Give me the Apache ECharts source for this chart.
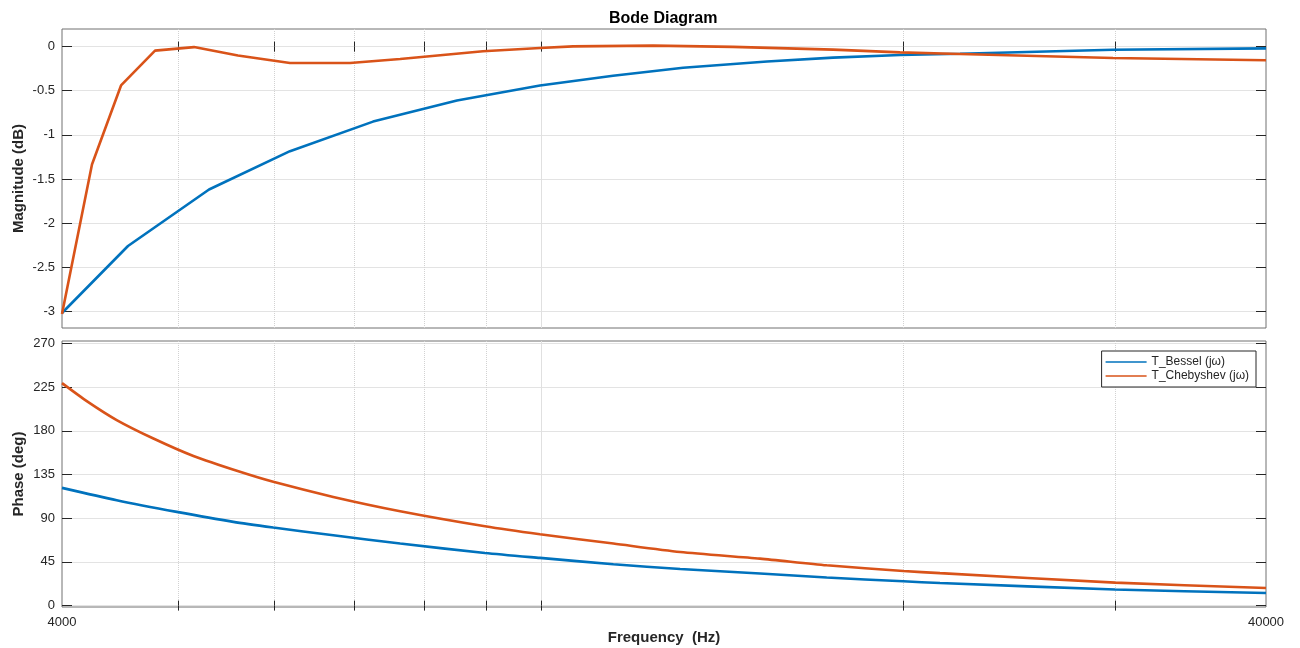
<!DOCTYPE html>
<html><head><meta charset="utf-8">
<script src="https://cdn.jsdelivr.net/npm/echarts@6/dist/echarts.min.js"></script>
<style>html,body{margin:0;padding:0;background:#fff}#c{width:1300px;height:648px}</style>
</head><body><div id="c"></div>
<script>
// ---- data (frequency in Hz) ----
const besselMagFreq = [4000, 4538, 5299, 6186, 7251, 8513, 9978, 11475, 13120, 15405, 17479, 19864, 22278, 29858, 40000];
const besselMag     = [-3.02, -2.26, -1.62, -1.185, -0.85, -0.61, -0.44, -0.33, -0.24, -0.168, -0.125, -0.095, -0.08, -0.036, -0.02];
const chebMagFreq   = [4000, 4236, 4478, 4779, 5149, 5600, 6186, 6939, 7637, 8948, 9978, 10630, 12386, 14433, 17479, 19864, 22278, 29858, 40000];
const chebMag       = [-3.03, -1.336, -0.44, -0.045, -0.005, -0.10, -0.185, -0.185, -0.14, -0.053, -0.015, 0.003, 0.012, -0.003, -0.034, -0.065, -0.083, -0.128, -0.155];
const besselPhaseFreq = [4000, 4441, 4982, 5551, 5991, 6720, 7637, 8982, 9978, 11482, 13046, 15200, 17266, 19989, 21443, 29967, 40000];
const besselPhase     = [121.2, 108.5, 96.5, 86.2, 80.4, 72.4, 63.9, 54.2, 49.1, 42.6, 37.7, 33.0, 28.9, 25.0, 23.3, 16.5, 13.0];
const chebPhaseFreq   = [4000, 4200, 4441, 4764, 5143, 5622, 5991, 6720, 7637, 8982, 9978, 11482, 13046, 15200, 17266, 19989, 21443, 29967, 40000];
const chebPhase       = [229, 210, 191, 172, 154, 137.7, 127.4, 111.9, 97.2, 81.7, 73.5, 63.9, 55.2, 48.4, 41.5, 35.7, 33.4, 23.7, 18.1];

const seriesNames = ['T_Bessel (j\u03c9)', 'T_Chebyshev (j\u03c9)'];
const freqLabels = [4000, 40000];
const freqTicks = [5000, 6000, 7000, 8000, 9000, 10000, 20000, 30000];
const freqMajorGrid = [10000];
const magTicks = [-3, -2.5, -2, -1.5, -1, -0.5, 0];
const phaseTicks = [0, 45, 90, 135, 180, 225, 270];
const magRange = [-3.19, 0.2];
const phaseRange = [-1.44, 272.4];

// ---- styles ----
const FONT = "'Liberation Sans', Arial, Helvetica, sans-serif";
const TXT = '#262626';
const colors = ['#0072BD', '#D95319'];
const pair = (xs, ys) => xs.map((x, i) => [x, ys[i]]);

const grids = [
  {left: 62, top: 29, width: 1204, height: 299},
  {left: 62, top: 341, width: 1204, height: 266}
].map(g => Object.assign({show: true, borderColor: '#707070', borderWidth: 1, backgroundColor: '#fff', containLabel: false}, g));

const xAxes = [];
[0, 1].forEach(g => {
  const base = {type: 'log', logBase: 10, min: 4000, max: 40000, gridIndex: g};
  xAxes.push(Object.assign({}, base, {
    position: 'bottom',
    axisLine: {show: false},
    axisTick: {show: true, inside: true, length: 5, customValues: freqTicks, lineStyle: {color: TXT}},
    splitLine: {show: true, lineStyle: {type: 'dotted', color: '#d2d2d2', width: 1}},
    axisLabel: {show: g === 1, customValues: freqLabels, margin: 9, fontSize: 13, fontFamily: FONT, color: TXT,
      formatter: v => String(Math.round(v))},
    name: g === 1 ? 'Frequency  (Hz)' : '',
    nameLocation: 'middle', nameGap: 23,
    nameTextStyle: {fontSize: 15, fontWeight: 'bold', fontFamily: FONT, color: TXT}
  }));
  xAxes.push(Object.assign({}, base, {
    position: 'top',
    axisLine: {show: false},
    axisTick: {show: true, inside: true, length: 5, customValues: freqTicks, lineStyle: {color: TXT}},
    splitLine: {show: false},
    axisLabel: {show: false}
  }));
  xAxes.push(Object.assign({}, base, {
    position: 'bottom',
    axisLine: {show: false},
    axisTick: {show: false, customValues: freqMajorGrid},
    splitLine: {show: true, lineStyle: {type: 'solid', color: '#e0e0e0', width: 1}},
    axisLabel: {show: false}
  }));
});

const yDefs = [
  {range: magRange, ticks: magTicks, name: 'Magnitude (dB)'},
  {range: phaseRange, ticks: phaseTicks, name: 'Phase (deg)'}
];
const yAxes = [];
yDefs.forEach((d, g) => {
  yAxes.push({
    type: 'value', gridIndex: g, position: 'left', min: d.range[0], max: d.range[1],
    axisLine: {show: false},
    axisTick: {show: true, inside: true, length: 10, customValues: d.ticks, lineStyle: {color: TXT}},
    axisLabel: {customValues: d.ticks, margin: 7, fontSize: 13, fontFamily: FONT, color: TXT},
    splitLine: {show: true, lineStyle: {color: '#e3e3e3', width: 1}},
    name: d.name, nameLocation: 'middle', nameRotate: 90, nameGap: 36, nameMoveOverlap: false,
    nameTextStyle: {fontSize: 15, fontWeight: 'bold', fontFamily: FONT, color: TXT}
  });
  yAxes.push({
    type: 'value', gridIndex: g, position: 'right', min: d.range[0], max: d.range[1],
    axisLine: {show: false},
    axisTick: {show: true, inside: true, length: 10, customValues: d.ticks, lineStyle: {color: TXT}},
    axisLabel: {show: false},
    splitLine: {show: false}
  });
});

const lineSeries = (name, data, xi, yi, color, smooth) => ({
  type: 'line', name, data, xAxisIndex: xi, yAxisIndex: yi,
  showSymbol: false, symbol: 'none', smooth: smooth, clip: false,
  lineStyle: {color, width: 2.6}, itemStyle: {color}, emphasis: {disabled: true}, z: 3
});

const option = {
  animation: false,
  backgroundColor: '#fff',
  color: colors,
  textStyle: {fontFamily: FONT},
  title: {
    text: 'Bode Diagram', left: 609, top: 11, padding: 0,
    textStyle: {fontSize: 16, fontWeight: 'bold', fontFamily: FONT, color: '#000'}
  },
  legend: {
    data: seriesNames, orient: 'vertical', right: 44, top: 351,
    icon: 'rect', itemWidth: 41, itemHeight: 1.5, itemGap: 0,
    padding: [4, 7, 4, 4],
    backgroundColor: '#fff', borderColor: TXT, borderWidth: 1, borderRadius: 0,
    textStyle: {fontSize: 12, fontFamily: FONT, color: TXT, lineHeight: 14, padding: [0, 0, 0, 0]},
    selectedMode: false
  },
  grid: grids,
  xAxis: xAxes,
  yAxis: yAxes,
  series: [
    lineSeries(seriesNames[0], pair(besselMagFreq, besselMag), 0, 0, colors[0], false),
    lineSeries(seriesNames[1], pair(chebMagFreq, chebMag), 0, 0, colors[1], false),
    lineSeries(seriesNames[0], pair(besselPhaseFreq, besselPhase), 3, 2, colors[0], 0.25),
    lineSeries(seriesNames[1], pair(chebPhaseFreq, chebPhase), 3, 2, colors[1], 0.25)
  ]
};
const chart = echarts.init(document.getElementById('c'), null, {renderer: 'canvas'});
chart.setOption(option);
</script>
</body></html>
